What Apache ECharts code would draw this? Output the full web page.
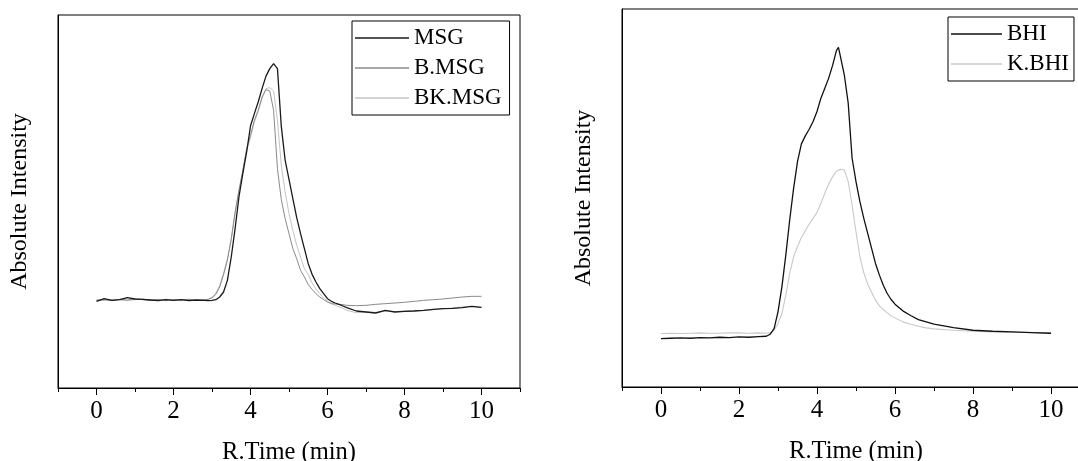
<!DOCTYPE html>
<html>
<head>
<meta charset="utf-8">
<script src="https://cdn.jsdelivr.net/npm/echarts@6/dist/echarts.min.js"></script>
<style>
html,body{margin:0;padding:0;background:#fff;}
#chart{width:1078px;height:461px;}
</style>
</head>
<body>
<div id="chart"></div>
<script>
// ---------- data ----------
const xTickLabels = ['-1','0','1','2','3','4','5','6','7','8','9','10','11'];

const leftTime = [0,0.2,0.4,0.6,0.8,1.0,1.2,1.4,1.6,1.8,2.0,2.2,2.4,2.6,2.8,2.9,
  3.0,3.1,3.2,3.3,3.4,3.5,3.6,3.7,3.8,3.9,4.0,4.1,4.2,4.3,4.4,4.5,4.6,4.7,4.8,4.9,
  5.0,5.1,5.2,5.3,5.4,5.5,5.6,5.7,5.8,5.9,6.0,6.1,6.2,6.3,6.4,6.5,
  6.75,7.0,7.25,7.5,7.75,8.0,8.25,8.5,8.75,9.0,9.25,9.5,9.75,10];

const msg = [260,268,263,265,271,267,266,264,262,265,263,265,262,264,263,262,
  263,265,273,288,323,393,478,573,643,708,786,823,858,898,935,958,973,958,785,683,
  626,568,511,463,418,373,341,318,298,283,268,260,255,251,246,241,
  231,228,225,233,228,230,231,233,236,238,239,241,245,242];

const bMsg = [263,265,262,266,264,267,265,263,266,262,265,264,266,263,265,266,
  270,281,303,340,383,448,528,593,653,718,758,803,833,873,895,891,833,658,565,508,
  463,418,388,353,333,310,296,283,273,265,258,253,252,251,250,248,
  247,248,251,253,255,257,260,263,265,267,270,273,275,275];

const bkMsg = [265,263,266,264,262,265,267,264,263,266,264,262,265,264,263,267,
  272,285,308,345,388,445,523,590,650,712,752,797,830,868,898,901,891,803,668,588,
  523,473,428,393,358,341,315,297,283,270,260,253,248,243,239,233,
  226,228,227,230,229,231,232,233,235,238,240,243,245,241];

const rightTime = [0,0.25,0.5,0.75,1.0,1.25,1.5,1.75,2.0,2.25,2.5,2.7,2.8,
  2.9,3.0,3.1,3.2,3.3,3.4,3.5,3.6,3.7,3.8,3.9,4.0,4.1,4.2,4.3,4.4,4.5,4.55,
  4.6,4.7,4.8,4.9,5.0,5.1,5.2,5.3,5.4,5.5,5.6,5.7,5.8,5.9,6.0,
  6.2,6.4,6.6,6.8,7.0,7.5,8.0,8.5,9.0,9.5,10];

const bhi = [145,146,147,146,148,147,149,148,150,149,151,152,158,
  175,225,300,395,500,595,675,728,752,772,795,825,865,895,925,963,1008,1017,
  990,935,850,685,615,555,505,460,415,370,335,305,280,262,248,
  228,214,202,195,188,178,170,167,165,163,161];

const kBhi = [160,161,160,161,162,161,161,162,162,161,162,161,162,
  170,190,220,275,340,390,420,448,468,488,505,523,550,580,608,630,646,650,
  652,650,615,545,465,390,342,308,284,260,243,232,222,213,207,
  195,188,182,177,174,170,167,165,164,163,162];

// ---------- chart ----------
const FONT = 'Liberation Serif';
function pairs(t, v){ return t.map((x,i)=>[x, v[i]]); }
const isEven = (idx, val) => (+val) % 2 === 0;

function valueX(grid){
  return {type:'value', gridIndex:grid, min:-1, max:11, interval:1, position:'bottom',
    axisLine:{show:true, onZero:false, lineStyle:{color:'#000', width:1}},
    axisTick:{show:true, length:4, lineStyle:{color:'#000'}},
    axisLabel:{show:false}, splitLine:{show:false}};
}
function labelX(grid){
  return {type:'category', gridIndex:grid, data:xTickLabels, boundaryGap:false, position:'bottom',
    axisLine:{show:false, onZero:false},
    axisTick:{show:true, length:7, interval:isEven, lineStyle:{color:'#000'}},
    axisLabel:{show:true, interval:isEven, margin:11, color:'#000', fontFamily:FONT, fontSize:25},
    splitLine:{show:false},
    name:'R.Time (min)', nameLocation:'middle', nameGap:52,
    nameTextStyle:{color:'#000', fontFamily:FONT, fontSize:24.5}};
}
function yAx(grid, max){
  return {type:'value', gridIndex:grid, min:0, max:max,
    axisLine:{show:true, onZero:false, lineStyle:{color:'#000', width:1}},
    axisTick:{show:false}, axisLabel:{show:false}, splitLine:{show:false},
    name:'Absolute Intensity', nameLocation:'middle', nameGap:26,
    nameTextStyle:{color:'#000', fontFamily:FONT, fontSize:24}};
}
function line(name, data, xi, yi, color, w){
  return {type:'line', name:name, data:data, xAxisIndex:xi, yAxisIndex:yi,
    symbol:'none', showSymbol:false, smooth:false,
    lineStyle:{color:color, width:w}, itemStyle:{color:color}, z:w>1.2?3:2};
}
const legendBase = {orient:'vertical', icon:'rect', itemHeight:1.5, itemGap:6,
  borderColor:'#000', borderWidth:1, selectedMode:false,
  textStyle:{color:'#000', fontFamily:FONT, fontSize:23, lineHeight:24}};

const chart = echarts.init(document.getElementById('chart'));
chart.setOption({
  animation:false,
  backgroundColor:'#fff',
  grid:[
    {left:58, top:15, width:462, height:373, show:true, borderColor:'#000', borderWidth:1,
     backgroundColor:'transparent', containLabel:false, outerBoundsMode:'none'},
    {left:622, top:9, width:468, height:378, show:true, borderColor:'#000', borderWidth:1,
     backgroundColor:'transparent', containLabel:false, outerBoundsMode:'none'}
  ],
  xAxis:[valueX(0), labelX(0), valueX(1), labelX(1)],
  yAxis:[yAx(0,1119), yAx(1,1132)],
  legend:[
    Object.assign({}, legendBase, {left:352, top:21, data:['MSG','B.MSG','BK.MSG'],
      itemWidth:54, padding:[5,8,5,3]}),
    Object.assign({}, legendBase, {left:948, top:17, data:['BHI','K.BHI'],
      itemWidth:51, padding:[5,5,5,3]})
  ],
  series:[
    line('BK.MSG', pairs(leftTime,bkMsg), 0, 0, '#c4c4c4', 1),
    line('B.MSG', pairs(leftTime,bMsg), 0, 0, '#8a8a8a', 1),
    line('MSG', pairs(leftTime,msg), 0, 0, '#1a1a1a', 1.3),
    line('K.BHI', pairs(rightTime,kBhi), 2, 1, '#c8c8c8', 1.1),
    line('BHI', pairs(rightTime,bhi), 2, 1, '#111111', 1.3)
  ]
});
</script>
</body>
</html>
